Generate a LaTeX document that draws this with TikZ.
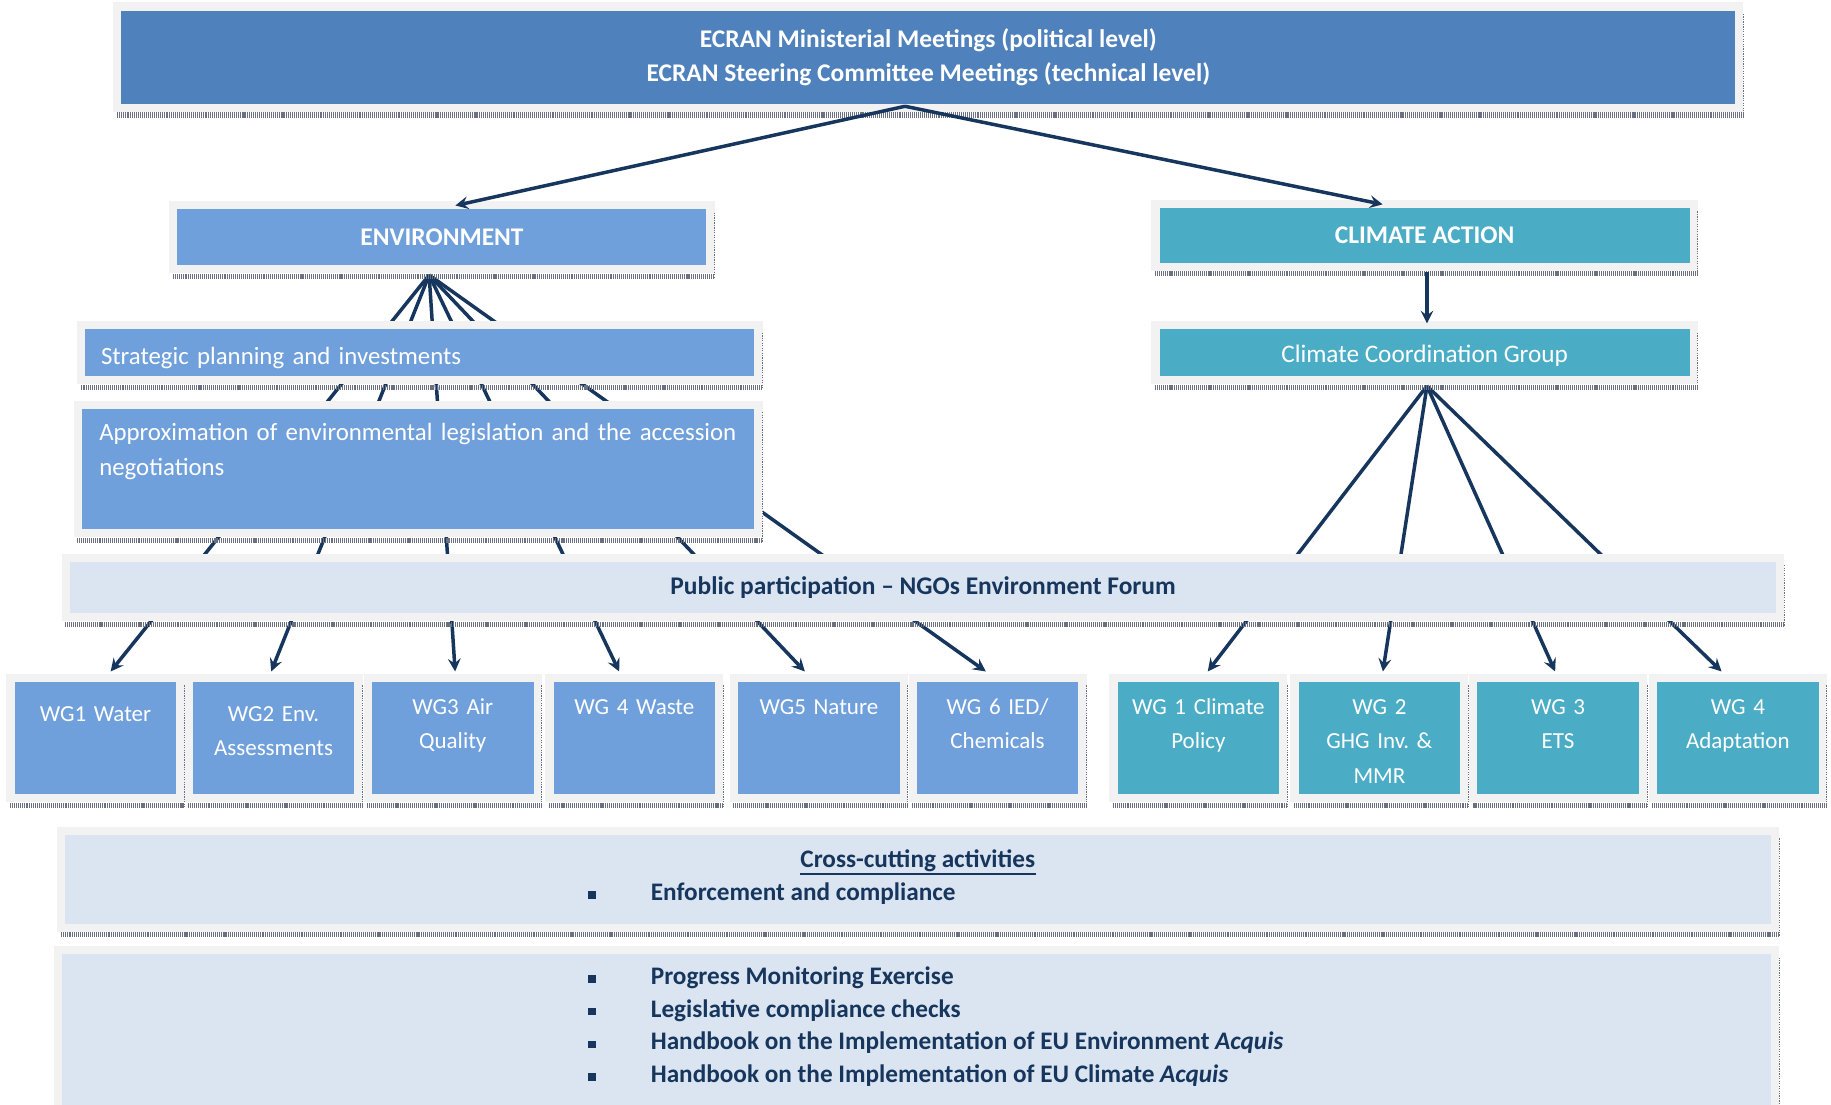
\documentclass[tikz,border=0pt]{standalone}
\usepackage{fontspec}
\setmainfont{Carlito}
\usepackage{tikz}
\usetikzlibrary{calc}
\frenchspacing
\definecolor{navy}{RGB}{23, 54, 93}
\definecolor{topblue}{RGB}{79, 129, 189}
\definecolor{envblue}{RGB}{112, 160, 219}
\definecolor{clim}{RGB}{75, 172, 198}
\definecolor{pale}{RGB}{219, 229, 241}
\definecolor{framegray}{RGB}{242, 242, 242}
\definecolor{hatch}{RGB}{108, 113, 130}
\pgfdeclarelayer{lines}
\pgfdeclarelayer{frames}
\pgfsetlayers{lines,frames,main}
\newcommand{\panelframe}[1]{%
  \begin{pgfonlayer}{frames}
    \fill[framegray] ($(#1.north west)+(-7, -7)$) rectangle ($(#1.south east)+(7, 7)$);
    \draw[hatch, line width=2.5pt, dash pattern=on 0.5pt off 0.45pt] ($(#1.south west)+(-4, 9.5)$) -- ($(#1.south east)+(7, 9.5)$);
    \draw[hatch, line width=0.5pt, dash pattern=on 0.6pt off 0.6pt] ($(#1.north east)+(7, 3)$) -- ($(#1.south east)+(7, 11)$);
  \end{pgfonlayer}}
\newcommand{\sqbullet}{\makebox[10.8mm][l]{\rule[0.8pt]{1.4mm}{1.3mm}}}

\begin{document}
\begin{tikzpicture}[x=0.2mm, y=-0.2mm,
  panel/.style={inner sep=0pt, outer sep=0pt, anchor=north west, text=white, font=\fontsize{12.1}{17}\selectfont},
  headbox/.style={panel, font=\bfseries\fontsize{12.4}{17}\selectfont},
  palebox/.style={panel, fill=pale},
  wgbox/.style={panel, text width=27.7mm, align=center, font=\fontsize{11.2}{17}\selectfont},
  link/.style={draw=navy, line width=1.7pt},
  navytext/.style={inner sep=0pt, text=navy, font=\bfseries\fontsize{12.3}{16}\selectfont}]

  \begin{pgfonlayer}{lines}
    \fill[white] (0, 0) rectangle (1568, 946);
  \end{pgfonlayer}
  \useasboundingbox (0, 0) rectangle (1568, 946);

  % upper levels
  \node[headbox, fill=topblue, minimum width=276.4mm, minimum height=16mm, align=center] (board) at (104, 9) {ECRAN Ministerial Meetings (political level)\\ECRAN Steering Committee Meetings (technical level)};
  \node[headbox, fill=envblue, minimum width=90.6mm, minimum height=9.6mm] (env) at (152, 179) {ENVIRONMENT};
  \node[headbox, fill=clim, minimum width=90.8mm, minimum height=9.4mm] (ca) at (993, 178) {CLIMATE ACTION};
  \node[panel, fill=envblue, text width=109.2mm, inner xsep=2.7mm, text height=6mm, text depth=2mm, align=left] (plan) at (73, 282) {Strategic planning and investments};
  \node[panel, fill=clim, minimum width=90.8mm, text height=5.7mm, text depth=2.3mm, font=\fontsize{12.3}{17}\selectfont] (ccg) at (993, 282) {Climate Coordination Group};
  \node[panel, fill=envblue, text width=109.2mm, inner xsep=3mm, text height=5.5mm, text depth=15.1mm, align=left] (approx) at (70, 350) {\mbox{Approximation of environmental legislation and the accession}\\negotiations};
  \node[palebox, minimum width=292.2mm, minimum height=8.8mm, text=navy, font=\bfseries\fontsize{12.4}{17}\selectfont] (forum) at (60, 481) {Public participation – NGOs Environment Forum};

  % working groups
  \foreach \n/\x/\h/\d/\t in {wg1/12.5/6.7mm/12.5mm/{WG1 Water}, wg2/165/6.7mm/12.5mm/{WG2 Env.\\Assessments}, wg3/318.5/5.5mm/13.7mm/{WG3 Air\\Quality}, wg4/474/5.5mm/13.7mm/{WG 4 Waste}, wg5/632/5.5mm/13.7mm/{WG5 Nature}, wg6/785/5.5mm/13.7mm/{WG 6 IED/\\Chemicals}} {
    \node[wgbox, fill=envblue, text height=\h, text depth=\d] (\n) at (\x, 584) {\t};
    \panelframe{\n}
  }
  \foreach \n/\x/\t in {wgc1/957/{WG 1 Climate\\Policy}, wgc2/1112/{WG 2\\GHG Inv. \&\\MMR}, wgc3/1265/{WG 3\\ETS}, wgc4/1419/{WG 4\\Adaptation}} {
    \node[wgbox, fill=clim, text height=5.5mm, text depth=13.7mm] (\n) at (\x, 584) {\t};
    \panelframe{\n}
  }

  % cross-cutting
  \node[palebox, minimum width=292.1mm, minimum height=15.2mm] (cross) at (56, 715) {};
  \node[navytext] (crosshead) at (786, 737) {Cross-cutting activities};
  \draw[navy, line width=0.9pt] ($(crosshead.south west)+(0, 1.5)$) -- ($(crosshead.south east)+(0, 1.5)$);
  \node[navytext, anchor=base west] (crossitem) at (503, 771) {\sqbullet Enforcement and compliance};
  \node[palebox, minimum width=292.6mm, minimum height=30mm] (checks) at (53.5, 817) {};
  \foreach \i/\t in {1/{Progress Monitoring Exercise}, 2/{Legislative compliance checks}, 3/{Handbook on the Implementation of EU Environment \textit{Acquis}}, 4/{Handbook on the Implementation of EU Climate \textit{Acquis}}} {
    \node[navytext, anchor=base west] (check\i) at (503, {843 + 28*(\i - 1)}) {\sqbullet \t};
  }

  \foreach \n in {board, env, ca, plan, ccg, approx, forum, cross, checks} {
    \panelframe{\n}
  }

  % fans behind the panels
  \begin{pgfonlayer}{lines}
    \coordinate (envfoot) at ($(env.south)+(-11, 8.5)$);
    \coordinate (ccgfoot) at ($(ccg.south)+(2, 8.5)$);
    \foreach \n/\dx in {wg1/13, wg2/-2, wg3/2, wg4/-13, wg5/-12, wg6/-10} {
      \draw[link, ->, >=stealth] (envfoot) -- ($(\n.north)+(\dx, -9)$);
    }
    \foreach \n/\dx in {wgc1/8, wgc2/3, wgc3/-2.5, wgc4/-14} {
      \draw[link, ->, >=stealth] (ccgfoot) -- ($(\n.north)+(\dx, -9)$);
    }
  \end{pgfonlayer}

  \coordinate (boardfoot) at ($(board.south)+(-20, 2)$);
  \draw[link, ->, >=stealth] (boardfoot) -- ($(env.north)+(11.5, -3)$);
  \draw[link, ->, >=stealth] (boardfoot) -- ($(ca.north)+(-36, -3)$);
  \draw[link, ->, >=stealth] ($(ca.south)+(2, 8)$) -- ($(ccg.north)+(2, -5)$);
\end{tikzpicture}
\end{document}
